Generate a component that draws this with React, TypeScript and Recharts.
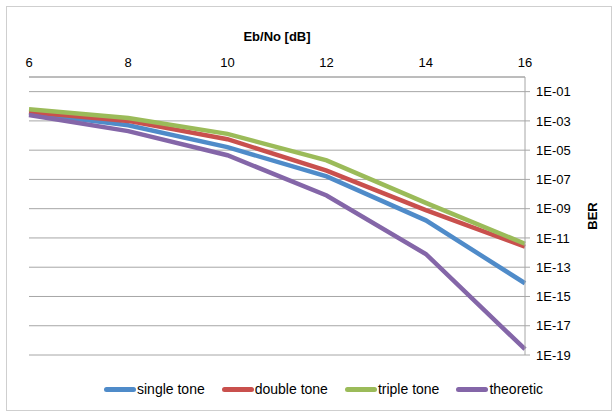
import { LineChart, Line, XAxis, YAxis, CartesianGrid } from 'recharts'

const ebNo = [6, 8, 10, 12, 14, 16]
const singleTone = [3.5e-3, 5e-4, 1.6e-5, 1.6e-7, 1.6e-10, 8e-15]
const doubleTone = [4e-3, 1e-3, 5.6e-5, 4e-7, 8e-10, 2.5e-12]
const tripleTone = [6.3e-3, 1.6e-3, 1.3e-4, 2e-6, 2.5e-9, 4e-12]
const theoretic = [2.5e-3, 2e-4, 4.5e-6, 8e-9, 8e-13, 2.5e-19]

const xTicks = [6, 8, 10, 12, 14, 16]
const yTicks = [1e-19, 1e-17, 1e-15, 1e-13, 1e-11, 1e-9, 1e-7, 1e-5, 1e-3, 1e-1]

const series = [
  { key: 'single', name: 'single tone', color: '#4F8BC9' },
  { key: 'double', name: 'double tone', color: '#C9504D' },
  { key: 'triple', name: 'triple tone', color: '#9BBB59' },
  { key: 'theo', name: 'theoretic', color: '#8466A8' },
]

const data = ebNo.map((x, i) => ({
  x,
  single: singleTone[i],
  double: doubleTone[i],
  triple: tripleTone[i],
  theo: theoretic[i],
}))

const FONT = '"Liberation Sans", Arial, sans-serif'
const GRID = '#A6A6A6'

const fmtExp = (v: number) => {
  const e = Math.round(Math.log10(v))
  return `1E${e < 0 ? '-' : '+'}${String(Math.abs(e)).padStart(2, '0')}`
}

const BerLabel = ({ viewBox }: any) => {
  const x = viewBox.x + viewBox.width - 23
  const y = viewBox.y + viewBox.height / 2
  return (
    <text x={x} y={y} transform={`rotate(-90 ${x} ${y})`} textAnchor="middle" dominantBaseline="central"
      fontSize={13} fontWeight="bold" fill="#000" fontFamily={FONT}>
      BER
    </text>
  )
}

export default function App() {
  return (
    <div style={{ position: 'absolute', left: 0, top: 0, width: 615, height: 413, background: '#fff', fontFamily: FONT }}>
      <div style={{ position: 'absolute', left: 6, top: 6, width: 604, height: 403, border: '1px solid #CFCFCF' }} />
      <LineChart width={615} height={413} data={data} margin={{ top: 27, right: 0, bottom: 58, left: 29 }}>
        <CartesianGrid vertical={false} stroke={GRID} />
        <XAxis
          dataKey="x" type="number" orientation="top" domain={[6, 16]} ticks={xTicks} height={50}
          tickLine={false} axisLine={{ stroke: GRID }} tickMargin={4}
          tick={{ fill: '#000', fontSize: 13, fontFamily: FONT }}
          label={{ value: 'Eb/No  [dB]', position: 'insideTop', offset: 5, style: { fontWeight: 'bold', fontSize: 13, fill: '#000', fontFamily: FONT, whiteSpace: 'pre' } }}
        />
        <YAxis
          orientation="right" scale="log" domain={[1e-19, 1]} ticks={yTicks} allowDataOverflow width={90}
          tickSize={5} tickMargin={6} tickLine={{ stroke: GRID }} axisLine={{ stroke: GRID }}
          tick={{ fill: '#000', fontSize: 13, fontFamily: FONT }} tickFormatter={fmtExp}
          label={<BerLabel />}
        />
        {series.map(s => (
          <Line key={s.key} dataKey={s.key} name={s.name} stroke={s.color} strokeWidth={4.5}
            dot={false} isAnimationActive={false} />
        ))}
      </LineChart>
      <div style={{ position: 'absolute', left: 104, top: 381, display: 'flex', alignItems: 'center', fontSize: 14, color: '#000', whiteSpace: 'nowrap' }}>
        {series.map(s => (
          <span key={s.key} style={{ display: 'inline-flex', alignItems: 'center', marginRight: 17 }}>
            <span style={{ display: 'inline-block', width: 32, height: 5, borderRadius: 3, background: s.color, marginRight: 1 }} />
            {s.name}
          </span>
        ))}
      </div>
    </div>
  )
}
